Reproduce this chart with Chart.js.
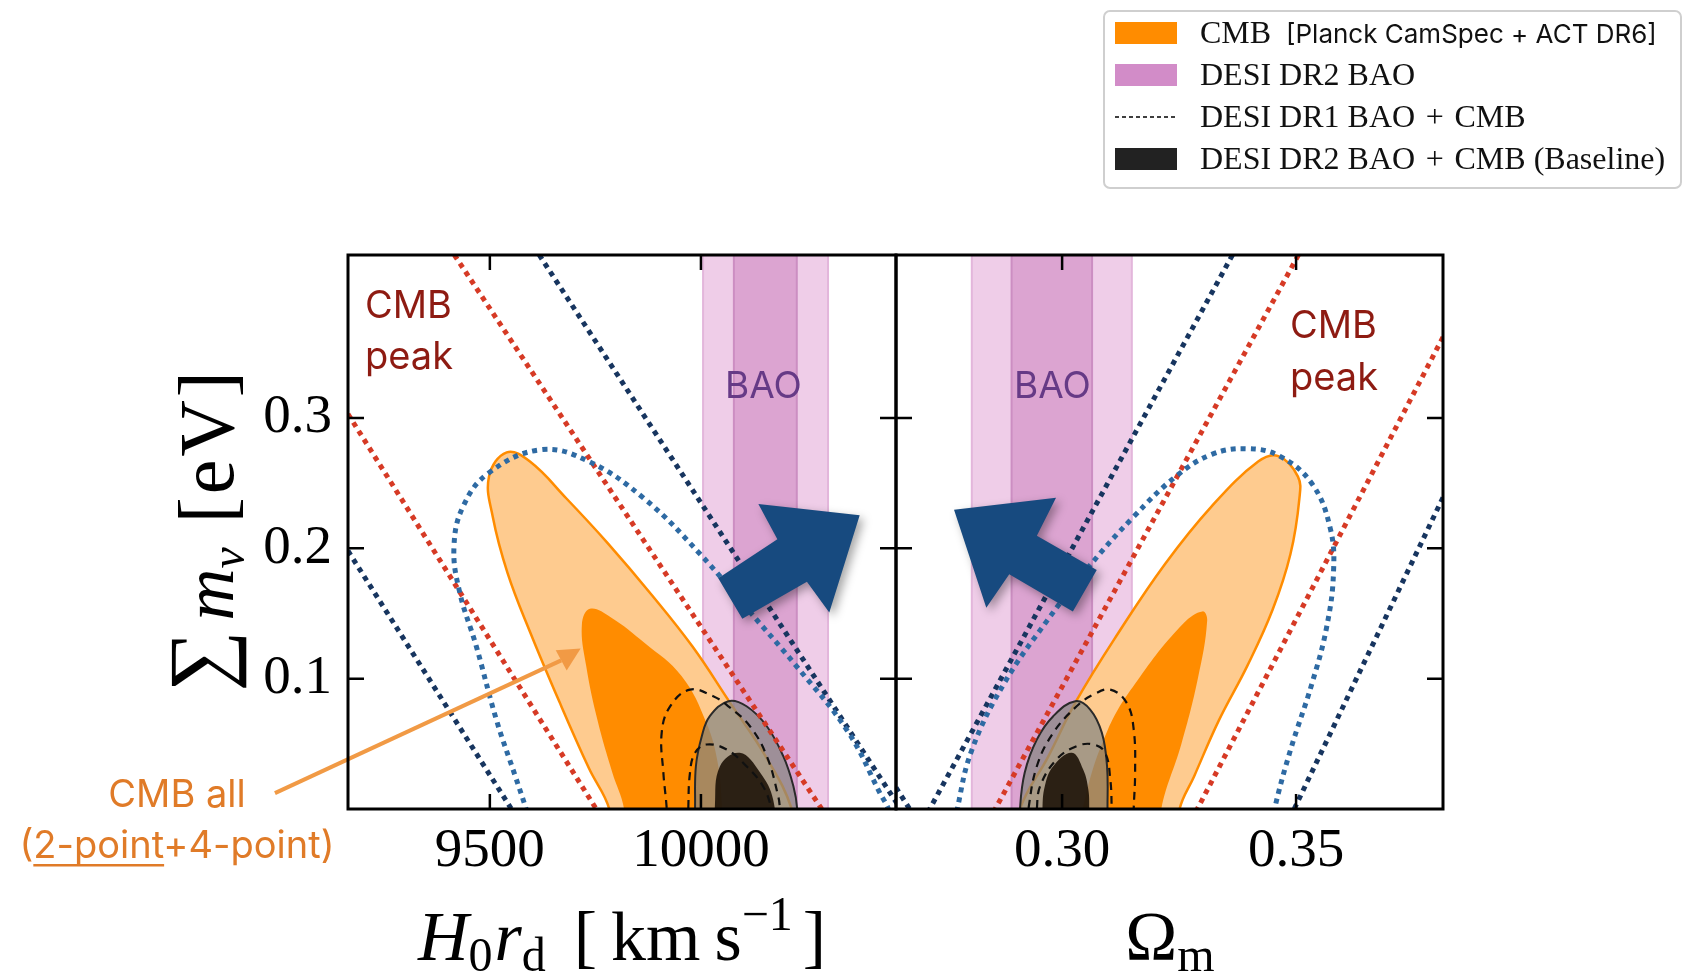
<!DOCTYPE html>
<html>
<head>
<meta charset="utf-8">
<script src="https://cdn.jsdelivr.net/npm/chart.js@4.4.1/dist/chart.umd.min.js"></script>
<style>
html, body { margin: 0; padding: 0; background: #fff; }
#wrap { position: relative; width: 1686px; height: 976px; }
#wrap canvas { position: absolute; left: 0; top: 0; }
</style>
</head>
<body>
<div id="wrap">
  <canvas id="leftPanel" width="1686" height="976"></canvas>
  <canvas id="rightPanel" width="1686" height="976"></canvas>
</div>
<script>
// axis ranges and ticks
const h0rdRange = [9164, 10462];
const omRange = [0.2645, 0.3814];
const mnuRange = [0, 0.425];
const h0rdTicks = [9500, 10000];
const h0rdTickLabels = ['9500', '10000'];
const omTicks = [0.30, 0.35];
const omTickLabels = ['0.30', '0.35'];
const mnuTicks = [0.1, 0.2, 0.3];
const mnuTickLabels = ['0.1', '0.2', '0.3'];

// ---- H0 rd panel (left) ----
const h0rdBaoOuter = [10005, 10301];
const h0rdBaoInner = [10078, 10227];
const h0rdCmb95 = [[9790,-0.03],[9783,0],[9735,0.031],[9665,0.082],[9595,0.136],[9542,0.181],[9507,0.224],[9498,0.255],[9540,0.2736],[9595,0.2665],[9682,0.238],[9779,0.204],[9884,0.164],[9980,0.1246],[10068,0.082],[10155,0.0395],[10215,0],[10225,-0.03]];
const h0rdCmb68 = [[9822,-0.03],[9818,0],[9790,0.028],[9755,0.068],[9728,0.110],[9718,0.1416],[9737,0.1536],[9787,0.147],[9866,0.1275],[9954,0.102],[10013,0.066],[10040,0.035],[10050,0],[10052,-0.03]];
const h0rdDr2Cmb95 = [[9984,-0.03],[9986,0],[9988,0.0328],[10002,0.0558],[10021,0.0712],[10065,0.0827],[10108,0.0788],[10156,0.0635],[10195,0.0405],[10219,0.0175],[10228,0],[10230,-0.03]];
const h0rdDr2Cmb68 = [[10032,-0.03],[10033,0.002],[10045,0.0328],[10092,0.0431],[10140,0.028],[10171,0.0073],[10180,-0.03]];
const h0rdDr1Cmb95 = [[9919,-0.01],[9919,0],[9911,0.0278],[9907,0.0584],[9927,0.0788],[9974,0.0916],[10029,0.0865],[10065,0.0788],[10116,0.0635],[10156,0.0405],[10183,0.0098],[10187,0],[10188,-0.01]];
const h0rdDr1Cmb68 = [[9970,-0.01],[9970,0],[9974,0.0278],[9986,0.0431],[10013,0.0495],[10061,0.0456],[10108,0.0328],[10147,0.0175],[10167,0],[10168,-0.01]];
const h0rdCmbAllLoop = [[9595,-0.01],[9586,0],[9560,0.0254],[9516,0.0679],[9468,0.1247],[9428,0.167],[9415,0.2012],[9437,0.2324],[9498,0.258],[9621,0.2756],[9735,0.2665],[9866,0.238],[9998,0.1956],[10111,0.153],[10225,0.110],[10348,0.0594],[10426,0.011],[10444,0],[10450,-0.01]];
const h0rdPeakRedA = [[9416,0.425],[10286,0]];
const h0rdPeakRedB = [[9164,0.303],[9752,0]];
const h0rdPeakNavyA = [[9617,0.425],[10473,0]];
const h0rdPeakNavyB = [[9164,0.198],[9551,0]];
const h0rdArrow = [[10041,0.1771],[10181,0.2069],[10136,0.2339],[10376,0.2254],[10304,0.1508],[10251,0.1743],[10098,0.1459],[10041,0.1771]];
const h0rdPointer = [[8991,0.0122],[9669,0.114]];
const h0rdPointerHead = [[9715,0.1232],[9656,0.1218],[9682,0.1062],[9715,0.1232]];

// ---- Omega_m panel (right) ----
const omBaoOuter = [0.2807, 0.3149];
const omBaoInner = [0.2892, 0.3064];
const omCmb95 = [[0.2905,-0.03],[0.2910,0],[0.2970,0.040],[0.3030,0.0827],[0.3120,0.135],[0.3220,0.188],[0.3320,0.2324],[0.3419,0.2665],[0.3462,0.2707],[0.3504,0.255],[0.3507,0.238],[0.3488,0.1956],[0.3450,0.153],[0.3396,0.110],[0.3335,0.068],[0.3282,0.025],[0.3251,0],[0.3245,-0.03]];
const omCmb68 = [[0.3040,-0.03],[0.3044,0],[0.3097,0.0602],[0.3167,0.1016],[0.3259,0.1423],[0.3300,0.1516],[0.3310,0.1445],[0.3290,0.100],[0.3255,0.050],[0.3212,0],[0.3210,-0.03]];
const omDr2Cmb95 = [[0.2909,-0.03],[0.2910,0],[0.2920,0.0278],[0.2946,0.0533],[0.2981,0.0712],[0.3028,0.0827],[0.3060,0.0763],[0.3085,0.0584],[0.3096,0.0328],[0.3097,0],[0.3097,-0.03]];
const omDr2Cmb68 = [[0.2958,-0.03],[0.2958,0],[0.2963,0.0175],[0.2981,0.0328],[0.3021,0.0431],[0.3045,0.0303],[0.3056,0.015],[0.3058,0],[0.3058,-0.03]];
const omDr1Cmb95 = [[0.2927,-0.01],[0.2928,0],[0.2946,0.0328],[0.2981,0.0584],[0.3031,0.0788],[0.3067,0.0878],[0.3103,0.0916],[0.3138,0.0814],[0.3153,0.061],[0.3156,0.0278],[0.3153,0],[0.3153,-0.01]];
const omDr1Cmb68 = [[0.2946,-0.01],[0.2946,0],[0.2953,0.0175],[0.2988,0.038],[0.3031,0.0482],[0.3067,0.0495],[0.3092,0.0431],[0.3103,0.0226],[0.3106,0],[0.3106,-0.01]];
const omCmbAllLoop = [[0.2774,-0.01],[0.2776,0],[0.2807,0.0452],[0.2876,0.0963],[0.2968,0.1445],[0.3060,0.1871],[0.3152,0.2239],[0.3243,0.2551],[0.3320,0.2721],[0.3396,0.2764],[0.3465,0.2707],[0.3534,0.2495],[0.3573,0.2154],[0.3580,0.1814],[0.3565,0.1389],[0.3534,0.0963],[0.3488,0.0452],[0.3454,0],[0.3452,-0.01]];
const omPeakRedA = [[0.3505,0.425],[0.2857,0]];
const omPeakRedB = [[0.3814,0.362],[0.3289,0]];
const omPeakNavyA = [[0.3364,0.425],[0.2717,0]];
const omPeakNavyB = [[0.3814,0.239],[0.3496,0]];
const omPeakNavyC = [[0.2645,0.0165],[0.2674,0]];
const omArrow = [[0.2769,0.2296],[0.2987,0.2387],[0.2946,0.2097],[0.3074,0.1834],[0.3023,0.1516],[0.2887,0.1800],[0.2838,0.1544],[0.2769,0.2296]];

const serif = '"Liberation Serif", "Times New Roman", serif';
const sans = 'Inter, "Liberation Sans", sans-serif';

const RED = '#d63a25', NAVY = '#17355f', STEEL = '#2e6aa3', ARROW = '#174a7f';

function xy(a) {
  return a.map(p => ({x: p[0], y: p[1]}));
}

function fillSet(points, bg, border, bw, tension) {
  return {data: xy(points), fill: 'shape', backgroundColor: bg,
    borderColor: border || 'rgba(0,0,0,0)', borderWidth: bw || 0,
    tension: tension === undefined ? 0.4 : tension, clip: 0};
}

function bandSet(edges, bg, border) {
  const a = edges[0], b = edges[1];
  return {data: xy([[a,-1],[a,2],[b,2],[b,-1],[a,-1]]), fill: 'shape', backgroundColor: bg,
    borderColor: border, borderWidth: 2, tension: 0, clip: 0};
}

function dotSet(points, color, tension) {
  return {data: xy(points), borderColor: color, borderWidth: 5, borderDash: [5, 5],
    fill: false, tension: tension || 0, clip: 0};
}

function dashSet(points) {
  return {data: xy(points), borderColor: '#111', borderWidth: 2.2, borderDash: [8, 6],
    fill: false, tension: 0.4, clip: 0};
}

function contourSets(bao, cmb95, cmb68, dr2a, dr2b, dr1a, dr1b) {
  return [
    bandSet(bao[0], '#efcde8', '#e3b6db'),
    bandSet(bao[1], '#dca4d1', '#cc8ec2'),
    fillSet(cmb95, '#fecb8f', '#ff8c00', 2.5),
    fillSet(cmb68, '#ff8c00'),
    fillSet(dr2a, 'rgba(135,135,130,0.72)', '#2a2a2a', 2),
    fillSet(dr2b, 'rgba(25,15,5,0.88)'),
    dashSet(dr1a),
    dashSet(dr1b)
  ];
}

const leftSets = contourSets([h0rdBaoOuter, h0rdBaoInner], h0rdCmb95, h0rdCmb68,
  h0rdDr2Cmb95, h0rdDr2Cmb68, h0rdDr1Cmb95, h0rdDr1Cmb68).concat([
  dotSet(h0rdPeakRedA, RED),
  dotSet(h0rdPeakRedB, RED),
  dotSet(h0rdPeakNavyA, NAVY),
  dotSet(h0rdPeakNavyB, NAVY),
  dotSet(h0rdCmbAllLoop, STEEL, 0.4),
  fillSet(h0rdArrow, ARROW, null, 0, 0),
  {data: xy(h0rdPointer), borderColor: '#f19a45', borderWidth: 4, fill: false, clip: false},
  {data: xy(h0rdPointerHead), fill: 'shape', backgroundColor: '#f19a45', borderWidth: 0, clip: false}
]);
const leftArrowIndex = 13;

const rightSets = contourSets([omBaoOuter, omBaoInner], omCmb95, omCmb68,
  omDr2Cmb95, omDr2Cmb68, omDr1Cmb95, omDr1Cmb68).concat([
  dotSet(omPeakRedA, RED),
  dotSet(omPeakRedB, RED),
  dotSet(omPeakNavyA, NAVY),
  dotSet(omPeakNavyB, NAVY),
  dotSet(omPeakNavyC, NAVY),
  dotSet(omCmbAllLoop, STEEL, 0.4),
  fillSet(omArrow, ARROW, null, 0, 0)
]);
const rightArrowIndex = 14;

// first listed = bottom layer
[leftSets, rightSets].forEach(sets => sets.forEach((d, i) => { d.order = -i; }));

// soft shadow under the big arrow: switched on after the dataset below it,
// switched off after the arrow itself
const shadowPlugin = {
  id: 'arrowShadow',
  afterDatasetDraw(chart, args, opts) {
    const ctx = chart.ctx;
    if (args.index === opts.index - 1) {
      ctx.save();
      ctx.shadowColor = 'rgba(0,0,0,0.35)';
      ctx.shadowBlur = 10;
      ctx.shadowOffsetX = 4;
      ctx.shadowOffsetY = 4;
    } else if (args.index === opts.index) {
      ctx.restore();
    }
  }
};

// frame with inward ticks on all four sides
const framePlugin = {
  id: 'frame',
  afterDraw(chart, args, opts) {
    const {ctx, chartArea: a, scales} = chart;
    ctx.save();
    ctx.strokeStyle = '#000';
    ctx.lineWidth = 3;
    ctx.strokeRect(a.left, a.top, a.right - a.left, a.bottom - a.top);
    ctx.lineWidth = 2.5;
    ctx.beginPath();
    opts.xTicks.forEach(v => {
      const p = scales.x.getPixelForValue(v);
      ctx.moveTo(p, a.bottom); ctx.lineTo(p, a.bottom - 15);
      ctx.moveTo(p, a.top); ctx.lineTo(p, a.top + 15);
    });
    mnuTicks.forEach(v => {
      const p = scales.y.getPixelForValue(v);
      ctx.moveTo(a.left, p); ctx.lineTo(a.left + 16, p);
      ctx.moveTo(a.right, p); ctx.lineTo(a.right - 16, p);
    });
    ctx.stroke();
    ctx.restore();
  }
};

// text made of pieces (sub/superscripts)
function drawParts(ctx, parts, x, y, align) {
  const widthOf = p => {
    ctx.font = p.font;
    ctx.letterSpacing = (p.ls || 0) + 'px';
    return ctx.measureText(p.text).width + (p.gap || 0);
  };
  let w = 0;
  parts.forEach(p => { w += widthOf(p); });
  let cx = align === 'center' ? x - w / 2 : x;
  ctx.textAlign = 'left';
  ctx.textBaseline = 'alphabetic';
  parts.forEach(p => {
    const pw = widthOf(p);
    ctx.fillText(p.text, cx, y + (p.dy || 0));
    cx += pw;
  });
  ctx.letterSpacing = '0px';
}

const leftText = {
  id: 'leftText',
  afterDraw(chart) {
    const ctx = chart.ctx;
    ctx.save();
    ctx.textAlign = 'left';
    ctx.textBaseline = 'alphabetic';
    ctx.fillStyle = '#8e1b12';
    ctx.font = '38px ' + sans;
    ctx.fillText('CMB', 365, 318);
    ctx.fillText('peak', 365, 369);
    ctx.fillStyle = '#663a86';
    ctx.font = '37px ' + sans;
    ctx.fillText('BAO', 725, 398);

    // CMB all note
    ctx.fillStyle = '#e07b28';
    ctx.font = '38px ' + sans;
    ctx.textAlign = 'center';
    ctx.fillText('CMB all', 177, 807);
    const line2 = '(2-point+4-point)';
    const w2 = ctx.measureText(line2).width;
    ctx.fillText(line2, 177, 858);
    const x0 = 177 - w2 / 2 + ctx.measureText('(').width;
    const wu = ctx.measureText('2-point').width;
    ctx.fillRect(x0, 864, wu, 2.5);

    // axis titles
    ctx.fillStyle = '#000';
    drawParts(ctx, [
      {text: 'H', font: 'italic 70px ' + serif},
      {text: '0', font: '48px ' + serif, dy: 11, gap: 2},
      {text: 'r', font: 'italic 70px ' + serif},
      {text: 'd', font: '48px ' + serif, dy: 11, gap: 28},
      {text: '[\u2009km\u2009s', font: '70px ' + serif},
      {text: '\u22121', font: '48px ' + serif, dy: -30, gap: 10},
      {text: ']', font: '70px ' + serif}
    ], 622, 960, 'center');

    ctx.translate(233, 530);
    ctx.rotate(-Math.PI / 2);
    drawParts(ctx, [
      {text: '\u2211', font: '86px ' + serif, dy: -5, gap: 10},
      {text: 'm', font: 'italic 72px ' + serif},
      {text: '\u03bd', font: 'italic 48px ' + serif, dy: 11, gap: 24},
      {text: '[eV]', font: '78px ' + serif, ls: 3}
    ], 0, 0, 'center');
    ctx.restore();
  }
};

const rightText = {
  id: 'rightText',
  afterDraw(chart) {
    const ctx = chart.ctx;
    ctx.save();
    ctx.textAlign = 'left';
    ctx.textBaseline = 'alphabetic';
    ctx.fillStyle = '#8e1b12';
    ctx.font = '38px ' + sans;
    ctx.fillText('CMB', 1290, 338);
    ctx.fillText('peak', 1290, 390);
    ctx.fillStyle = '#663a86';
    ctx.font = '37px ' + sans;
    ctx.fillText('BAO', 1014, 398);

    ctx.fillStyle = '#000';
    drawParts(ctx, [
      {text: '\u03a9', font: '70px ' + serif},
      {text: 'm', font: '48px ' + serif, dy: 11}
    ], 1170, 960, 'center');

    // legend
    ctx.beginPath();
    ctx.roundRect(1104, 11, 577, 177, 6);
    ctx.fillStyle = '#fff';
    ctx.fill();
    ctx.strokeStyle = '#cfcfcf';
    ctx.lineWidth = 2;
    ctx.stroke();

    ctx.fillStyle = '#ff8c00';
    ctx.fillRect(1115, 22, 62, 22);
    ctx.fillStyle = '#d28cc8';
    ctx.fillRect(1115, 64, 62, 22);
    ctx.fillStyle = '#222';
    ctx.fillRect(1115, 148, 62, 22);
    ctx.strokeStyle = '#000';
    ctx.lineWidth = 1.5;
    ctx.setLineDash([4, 3]);
    ctx.beginPath();
    ctx.moveTo(1115, 117); ctx.lineTo(1177, 117);
    ctx.stroke();
    ctx.setLineDash([]);

    const sp = '\u2004+\u2004';
    ctx.fillStyle = '#111';
    ctx.font = '32px ' + serif;
    ctx.fillText('CMB', 1200, 43);
    ctx.fillText('DESI DR2 BAO', 1200, 85);
    ctx.fillText('DESI DR1 BAO' + sp + 'CMB', 1200, 127);
    ctx.fillText('DESI DR2 BAO' + sp + 'CMB (Baseline)', 1200, 169);
    ctx.font = '26px ' + sans;
    ctx.fillText('[Planck CamSpec + ACT DR6]', 1286, 43);
    ctx.restore();
  }
};

function makeScales(xRange, xTicks, xLabels, showY) {
  return {
    x: {
      type: 'linear', min: xRange[0], max: xRange[1],
      grid: {display: false, drawTicks: false}, border: {display: false},
      afterBuildTicks: s => { s.ticks = xTicks.map(v => ({value: v})); },
      afterFit: s => { s.height = 167; },
      ticks: {color: '#000', padding: 10, font: {family: serif, size: 55},
        maxRotation: 0, callback: (v, i) => xLabels[i]}
    },
    y: {
      type: 'linear', min: mnuRange[0], max: mnuRange[1], display: showY,
      grid: {display: false, drawTicks: false}, border: {display: false},
      afterBuildTicks: s => { s.ticks = mnuTicks.map(v => ({value: v})); },
      afterFit: s => { s.width = showY ? 348 : 0; },
      ticks: {color: '#000', padding: 16, font: {family: serif, size: 55},
        callback: (v, i) => mnuTickLabels[i]}
    }
  };
}

function panel(id, sets, scales, padding, xTicks, arrowIndex, textPlugin) {
  return new Chart(document.getElementById(id), {
    type: 'line',
    data: {datasets: sets},
    options: {
      responsive: false,
      animation: false,
      devicePixelRatio: 1,
      events: [],
      layout: {padding: padding},
      elements: {
        point: {radius: 0, hoverRadius: 0},
        line: {capBezierPoints: false, borderCapStyle: 'butt'}
      },
      scales: scales,
      plugins: {
        legend: {display: false},
        tooltip: {enabled: false},
        frame: {xTicks: xTicks},
        arrowShadow: {index: arrowIndex}
      }
    },
    plugins: [shadowPlugin, framePlugin, textPlugin]
  });
}

panel('leftPanel', leftSets, makeScales(h0rdRange, h0rdTicks, h0rdTickLabels, true),
  {left: 0, top: 255, right: 790, bottom: 0}, h0rdTicks, leftArrowIndex, leftText);
panel('rightPanel', rightSets, makeScales(omRange, omTicks, omTickLabels, false),
  {left: 896, top: 255, right: 243, bottom: 0}, omTicks, rightArrowIndex, rightText);
</script>
</body>
</html>
